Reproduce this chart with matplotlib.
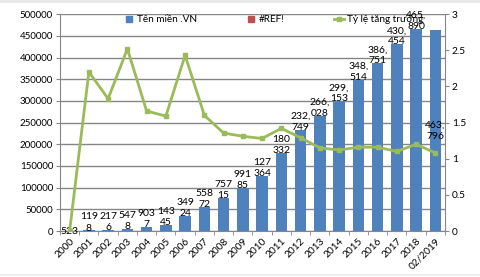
import numpy as np
import matplotlib.pyplot as plt
from matplotlib.lines import Line2D

plt.rcParams['font.family'] = ['Lato', 'DejaVu Sans']

# data
years = ['2000', '2001', '2002', '2003', '2004', '2005', '2006', '2007', '2008', '2009',
         '2010', '2011', '2012', '2013', '2014', '2015', '2016', '2017', '2018', '02/2019']
domains = [523, 1198, 2176, 5478, 9037, 14345, 34924, 55872, 75715, 99185,
           127364, 180332, 232749, 266028, 299153, 348514, 386751, 430454, 465890, 463796]
bar_labels = ['523', '119\n8', '217\n6', '547\n8', '903\n7', '143\n45', '349\n24', '558\n72',
              '757\n15', '991\n85', '127\n364', '180\n332', '232,\n749', '266,\n028', '299,\n153',
              '348,\n514', '386,\n751', '430,\n454', '465,\n890', '463,\n796']
growth = [0, 2.2, 1.83, 2.52, 1.66, 1.59, 2.43, 1.6, 1.355, 1.31,
          1.28, 1.42, 1.29, 1.15, 1.12, 1.16, 1.16, 1.1, 1.2, 1.08]

blue = '#4F81BD'
red = '#C0504D'
green = '#9BBB59'
grey = '#868686'

fig = plt.figure(figsize=(4.8, 2.77), dpi=100)
ax = fig.add_axes([0.125, 0.166, 0.802, 0.783])
x = np.arange(len(years))

ax.bar(x, domains, width=0.6, color=blue, zorder=2)
ax.set_xlim(-0.5, len(years) - 0.5)
ax.set_ylim(0, 500000)
ax.set_yticks(range(0, 500001, 50000))
ax.grid(axis='y', color=grey, lw=1, zorder=0)
ax.set_axisbelow(True)
for s in ['top', 'right']:
    ax.spines[s].set_visible(False)
ax.spines['left'].set_color(grey)
ax.spines['bottom'].set_color(grey)
ax.tick_params(axis='y', labelsize=7, length=3, color=grey, pad=2)
ax.set_xticks(x)
ax.set_xticklabels(years, rotation=45, ha='right', rotation_mode='anchor', fontsize=7.3)
ax.tick_params(axis='x', which='major', length=0, pad=4)
ax.set_xticks(np.arange(-0.5, len(years)), minor=True)
ax.tick_params(axis='x', which='minor', length=3, color=grey)

for xi, v, lab in zip(x, domains, bar_labels):
    dy = -1.5
    if xi == 0:
        dy = -4
    elif xi == len(years) - 1:
        dy = -80   # excel dropped this label down inside the bar
    ax.annotate(lab, (xi, v), xytext=(0, dy), textcoords='offset points',
                ha='center', va='bottom', fontsize=7.5, linespacing=1.3, zorder=3)

ax2 = ax.twinx()
ax2.plot(x, growth, color=green, lw=2, marker='s', ms=3.5)
ax2.set_ylim(0, 3)
ax2.set_yticks([0, 0.5, 1, 1.5, 2, 2.5, 3])
ax2.set_yticklabels(['0', '0.5', '1', '1.5', '2', '2.5', '3'])
ax2.tick_params(axis='y', labelsize=7.3, length=3, color=grey, pad=2)
for s in ['top', 'left', 'bottom']:
    ax2.spines[s].set_visible(False)
ax2.spines['right'].set_color(grey)

handles = [
    Line2D([], [], marker='s', ls='none', color=blue, ms=5),
    Line2D([], [], marker='s', ls='none', color=red, ms=5),
    Line2D([], [], marker='s', color=green, lw=2, ms=3.5),
]
ax2.legend(handles, ['Tên miền .VN', '#REF!', 'Tỷ lệ tăng trưởng'],
           loc='upper left', bbox_to_anchor=(0.166, 0.995), ncol=3, frameon=False,
           borderaxespad=0, borderpad=0,
           fontsize=7.2, handlelength=1.0, handletextpad=0.3, columnspacing=4.9)

# faint frame lines at top and bottom of the picture
fig.add_artist(Line2D([0, 1], [0.996, 0.996], color='#e8e8e8', lw=2, transform=fig.transFigure))
fig.add_artist(Line2D([0, 1], [0.008, 0.008], color='#eeeeee', lw=1.5, transform=fig.transFigure))

fig.savefig('out.png', dpi=100)
